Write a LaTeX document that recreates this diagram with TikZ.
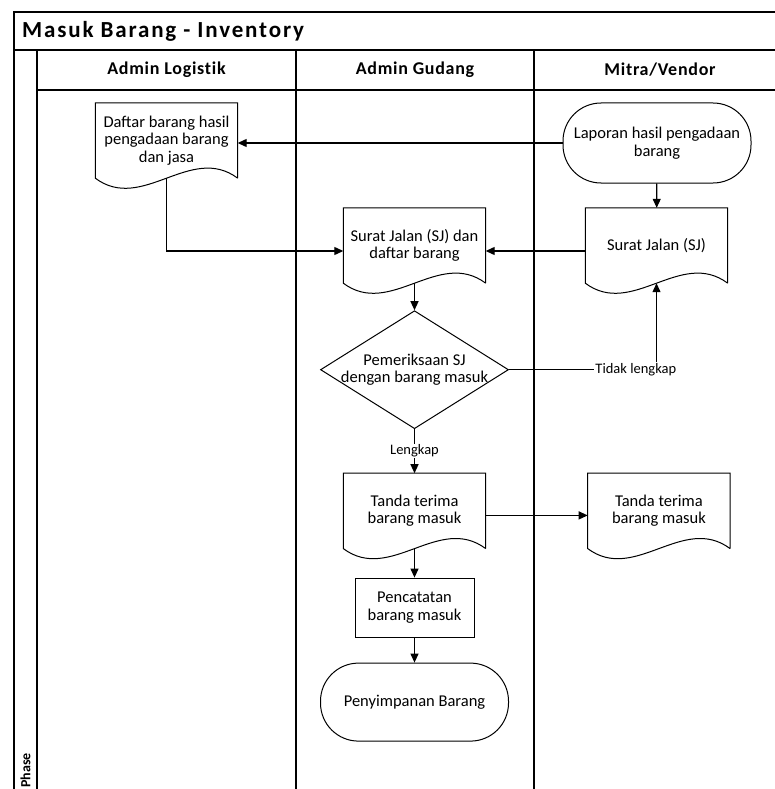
\documentclass[tikz,border=0pt]{standalone}
\usepackage{fontspec}
\setmainfont{Carlito}
\newfontfamily\hdrfont[LetterSpace=8]{Carlito}
\newfontfamily\lanefont[LetterSpace=4, Ligatures=NoCommon]{Carlito}
\usetikzlibrary{arrows.meta,positioning,shapes.geometric}

% outline of a document node: straight top and sides, wavy bottom
\newcommand\docwave[1]{%
  \draw[line width=1pt] (#1.south east) -- (#1.north east) -- (#1.north west) -- (#1.south west)
    .. controls +(47,35) and +(-47,-35) .. (#1.south east);}

\begin{document}
\begin{tikzpicture}[
    x=1pt, y=-1pt,
    frame/.style={line width=1.5pt},
    doc/.style={minimum width=142pt, minimum height=75pt, align=center, inner sep=2pt},
    proc/.style={draw, line width=1pt, minimum width=119pt, minimum height=59pt, align=center},
    term/.style={draw, line width=1pt, rounded corners=38pt, minimum width=188pt, minimum height=78pt, align=center},
    dec/.style={draw, diamond, aspect=1.6, line width=1pt, minimum width=188pt, minimum height=118pt, inner xsep=-14pt, inner ysep=0pt, align=center},
    lane/.style={font=\lanefont\bfseries\fontsize{18}{20}\selectfont},
    arr/.style={line width=1.2pt, -{Triangle[length=9pt,width=8pt]}},
    lbl/.style={fill=white, inner sep=1pt, font=\fontsize{14.5}{16}\selectfont},
    font=\fontsize{16.5}{17.5}\selectfont
  ]
    \useasboundingbox (0,0) rectangle (774,789);
    % swimlane frame
    \draw[frame] (14,12) rectangle (786,800);
    \draw[frame] (14,50) -- (786,50);
    \draw[frame] (37,50) -- (37,800);
    \draw[frame] (37,90) -- (786,90);
    \foreach \x in {296,534}
      \draw[frame] (\x,50) -- (\x,800);
    \node[anchor=west, inner sep=0pt, font=\hdrfont\bfseries\fontsize{23}{26}\selectfont] (judul) at (22,31) {Masuk Barang - Inventory};
    \node[lane] (hlog) at (166.5,70) {Admin Logistik};
    \node[lane] (hgud) at (415,70) {Admin Gudang};
    \node[lane] (hven) at (660,70) {Mitra/Vendor};
    \node[rotate=90, anchor=west, inner sep=0pt, font=\bfseries\fontsize{14}{16}\selectfont] (fase) at (25.5,788) {Phase};

    % flow
    \node[doc] (daf) at (166.5,140.5) {Daftar barang hasil\\pengadaan barang\\dan jasa};
    \node[term, minimum height=80pt] (lap) at (657,143) {Laporan hasil pengadaan\\barang};
    \node[doc] (sjv) at (656.5,245.5) {Surat Jalan (SJ)};
    \node[doc] (sjd) at (414.5,245.5) {Surat Jalan (SJ) dan\\daftar barang};
    \node[dec, below=27pt of sjd] (cek) {Pemeriksaan SJ\\dengan barang masuk};
    \node[doc, below=44pt of cek] (tt) {Tanda terima\\barang masuk};
    \node[doc, right=102pt of tt] (ttv) {Tanda terima\\barang masuk};
    \node[proc, below=29pt of tt] (pc) {Pencatatan\\barang masuk};
    \node[term, below=25pt of pc] (simpan) {Penyimpanan Barang};
    \docwave{daf}
    \docwave{sjv}
    \docwave{sjd}
    \docwave{tt}
    \docwave{ttv}

    \draw[arr] (lap.west) -- (lap.west -| daf.east);
    \draw[arr] (lap) -- (sjv);
    \draw[arr] (daf.south) |- ([yshift=-5.5pt]sjd.west);
    \draw[arr] ([yshift=-5.5pt]sjv.west) -- ([yshift=-5.5pt]sjd.east);
    \draw[arr] (sjd) -- (cek);
    \draw[arr] (cek.east) -| node[lbl, pos=0.43] {Tidak lengkap} (sjv.south);
    \draw[arr] (cek) -- node[lbl] {Lengkap} (tt);
    \draw[arr] ([yshift=-4.5pt]tt.east) -- ([yshift=-4.5pt]ttv.west);
    \draw[arr] (tt) -- (pc);
    \draw[arr] (pc) -- (simpan);
  \end{tikzpicture}
\end{document}
